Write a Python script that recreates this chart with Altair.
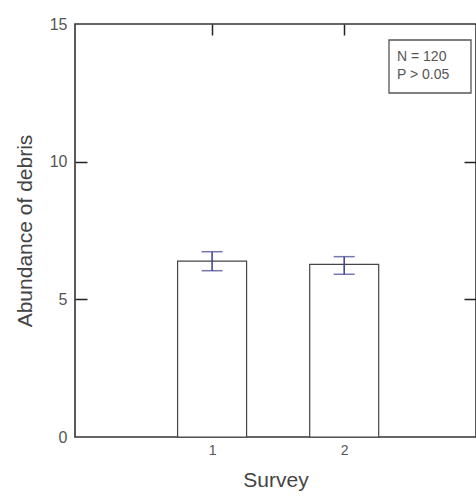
import altair as alt
import pandas as pd

surveys = [1, 2]
means = [6.39, 6.27]
err_upper = [6.73, 6.55]
err_lower = [6.04, 5.91]

y_ticks = [0, 5, 10, 15]
x_ticks = [1, 2]
inner_y_ticks = [5, 10]
note_lines = ["N = 120", "P > 0.05"]

FONT = "Liberation Sans Narrow, Liberation Sans, Arial, sans-serif"
W, H = 401, 413

df = pd.DataFrame({"survey": surveys, "mean": means, "hi": err_upper, "lo": err_lower})

xscale = alt.Scale(domain=[0, 2.96], nice=False, zero=False)
yscale = alt.Scale(domain=[0, 15], nice=False)

x_main = alt.X("survey:Q", scale=xscale, title="Survey",
               axis=alt.Axis(values=x_ticks, ticks=False, domain=False, grid=False,
                             labelPadding=6, labelFontSize=14, labelColor="#555",
                             labelFont=FONT, titleFont=FONT, titleFontSize=21,
                             titleFontWeight="normal", titleColor="#444", titlePadding=12))
y_main = alt.Y("mean:Q", scale=yscale, title="Abundance of debris",
               axis=alt.Axis(values=y_ticks, ticks=False, domain=False, grid=False,
                             labelPadding=8, labelFontSize=16, labelColor="#555",
                             labelFont=FONT, titleFont=FONT, titleFontSize=21,
                             titleFontWeight="normal", titleColor="#444", titlePadding=14))

bars = alt.Chart(df).mark_bar(size=69, fill="white", stroke="#444", strokeWidth=1.2).encode(
    x=x_main, y=y_main)

# error bar stem, with inward ticks on the left and on the top
stem = alt.Chart(df).mark_rule(color="#3c3c8e", strokeWidth=1.5).encode(
    x=alt.X("survey:Q", scale=xscale,
            axis=alt.Axis(orient="bottom", offset=-H, values=x_ticks, labels=False, domain=False,
                          grid=False, ticks=True, tickSize=11, tickColor="#222", tickWidth=1.5,
                          title=None)),
    y=alt.Y("lo:Q", scale=yscale,
            axis=alt.Axis(orient="right", offset=-W, values=inner_y_ticks, labels=False,
                          domain=False, grid=False, ticks=True, tickSize=12, tickColor="#222",
                          tickWidth=1.5, title=None)),
    y2="hi:Q")

cap_hi = alt.Chart(df).mark_tick(color="#3c3c8e", thickness=1.5, size=21, orient="horizontal").encode(
    x=alt.X("survey:Q", scale=xscale, axis=None),
    y=alt.Y("hi:Q", scale=yscale,
            axis=alt.Axis(orient="left", offset=-W, values=inner_y_ticks, labels=False,
                          domain=False, grid=False, ticks=True, tickSize=12, tickColor="#222",
                          tickWidth=1.5, title=None)))

cap_lo = alt.Chart(df).mark_tick(color="#3c3c8e", thickness=1.5, size=21, orient="horizontal").encode(
    x=alt.X("survey:Q", scale=xscale, axis=None),
    y=alt.Y("lo:Q", scale=yscale, axis=None))

note_src = pd.DataFrame({"k": [0]})
note_box = alt.Chart(note_src).mark_rect(
    fill="white", stroke="#555", strokeWidth=1.3).encode(
    x=alt.value(314), x2=alt.value(396), y=alt.value(16), y2=alt.value(69))

note_1 = alt.Chart(note_src).mark_text(
    align="left", baseline="middle", font=FONT, fontSize=14, color="#555",
    text=note_lines[0]).encode(x=alt.value(322), y=alt.value(33))
note_2 = alt.Chart(note_src).mark_text(
    align="left", baseline="middle", font=FONT, fontSize=14, color="#555",
    text=note_lines[1]).encode(x=alt.value(322), y=alt.value(51))

chart = alt.layer(bars, stem, cap_hi, cap_lo, note_box, note_1, note_2).resolve_axis(
    x="independent", y="independent").properties(
    width=W, height=H,
    autosize=alt.AutoSizeParams(type="none"),
    padding={"left": 75, "top": 24, "right": 0, "bottom": 64},
    background="white",
).configure_view(stroke="#333", strokeWidth=1.6)

chart.save("out.html", embed_options={"renderer": "svg", "actions": False})
